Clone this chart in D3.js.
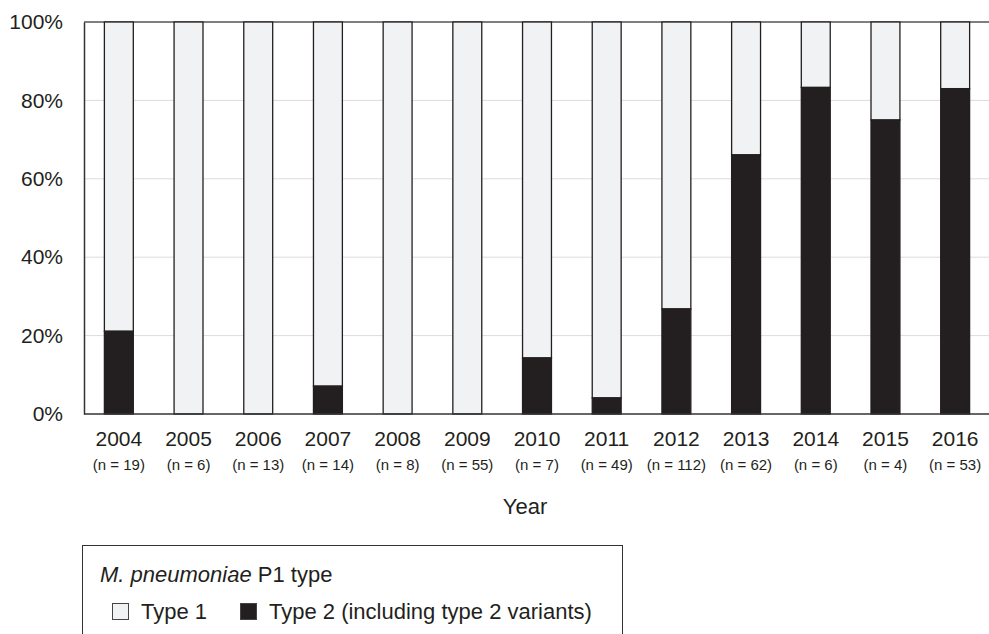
<!DOCTYPE html>
<html>
<head>
    <meta charset="UTF-8">
    <title>M. pneumoniae P1 type by year</title>
    <script src="https://cdn.jsdelivr.net/npm/d3@7"></script>
    <style>
        body { margin: 0; background: #fff; }
        text { font-family: "Liberation Sans", Arial, sans-serif; fill: #231f20; }
    </style>
</head>
<body>
    <script>
        var years = ['2004', '2005', '2006', '2007', '2008', '2009', '2010', '2011', '2012', '2013', '2014', '2015', '2016']
        var counts = [19, 6, 13, 14, 8, 55, 7, 49, 112, 62, 6, 4, 53]
        // percent of type 2 (incl. variants) per year, rest is type 1
        var type2 = [21.1, 0, 0, 7.1, 0, 0, 14.3, 4.1, 26.8, 66.1, 83.3, 75, 83.0]
        var yTicks = [0, 20, 40, 60, 80, 100]

        var W = 989, H = 634
        var mLeft = 84, mRight = 990, mTop = 22, mBottom = 414
        var font = '"Liberation Sans", Arial, sans-serif'

        var svg = d3.select('body')
            .append('svg')
            .attr('width', W)
            .attr('height', H)

        var x = d3.scaleBand()
            .domain(years)
            .range([mLeft, mRight])
            .paddingInner(0.585)
            .paddingOuter(0.2925)

        var y = d3.scaleLinear()
            .domain([0, 100])
            .range([mBottom, mTop])

        // grid
        svg.append('g')
            .selectAll('line')
            .data(yTicks.filter(function(d){ return d > 0 && d < 100 }))
            .enter()
            .append('line')
            .attr('x1', mLeft)
            .attr('x2', W)
            .attr('y1', function(d){ return y(d) })
            .attr('y2', function(d){ return y(d) })
            .attr('stroke', '#dcdcdc')
            .attr('stroke-width', 1)

        // top line
        svg.append('line')
            .attr('x1', mLeft).attr('x2', W)
            .attr('y1', y(100)).attr('y2', y(100))
            .attr('stroke', '#555').attr('stroke-width', 1.5)

        var data = years.map(function(d, i){
            return { year: d, n: counts[i], t2: type2[i] }
        })

        var bars = svg.append('g')
            .selectAll('g')
            .data(data)
            .enter()
            .append('g')

        bars.append('rect')
            .attr('x', function(d){ return x(d.year) })
            .attr('width', x.bandwidth())
            .attr('y', y(100))
            .attr('height', function(d){ return y(d.t2) - y(100) })
            .attr('fill', '#f1f2f4')
            .attr('stroke', '#231f20')
            .attr('stroke-width', 1.3)

        bars.filter(function(d){ return d.t2 > 0 })
            .append('rect')
            .attr('x', function(d){ return x(d.year) })
            .attr('width', x.bandwidth())
            .attr('y', function(d){ return y(d.t2) })
            .attr('height', function(d){ return y(0) - y(d.t2) })
            .attr('fill', '#231f20')
            .attr('stroke', '#231f20')
            .attr('stroke-width', 1.3)

        // y axis
        var yAxis = svg.append('g')
            .attr('transform', 'translate(' + mLeft + ',0)')
            .call(d3.axisLeft(y).tickValues(yTicks).tickSize(0).tickPadding(21)
                .tickFormat(function(d){ return d + '%' }))
        yAxis.select('.domain').attr('stroke', '#333').attr('stroke-width', 1.5)
        yAxis.selectAll('text').style('font-size', '21px')
            .style('font-family', font)
            .attr('fill', '#231f20')

        // x axis
        var xAxis = svg.append('g')
            .attr('transform', 'translate(0,' + mBottom + ')')
            .call(d3.axisBottom(x).tickSize(0).tickPadding(17))
        xAxis.select('.domain').attr('stroke', '#333').attr('stroke-width', 1.5)
            .attr('d', 'M' + mLeft + ',0H' + mRight)
        xAxis.selectAll('text').style('font-size', '21px')
            .style('font-family', font)
            .attr('fill', '#231f20')

        svg.append('g')
            .selectAll('text')
            .data(data)
            .enter()
            .append('text')
            .attr('x', function(d){ return x(d.year) + x.bandwidth() / 2 })
            .attr('y', 470)
            .attr('text-anchor', 'middle')
            .style('font-size', '15px')
            .text(function(d){ return '(n = ' + d.n + ')' })

        svg.append('text')
            .attr('x', 525)
            .attr('y', 514)
            .attr('text-anchor', 'middle')
            .style('font-size', '22px')
            .text('Year')

        // legend
        var lg = svg.append('g')
        lg.append('rect')
            .attr('x', 82.5).attr('y', 545.5)
            .attr('width', 540).attr('height', 120)
            .attr('fill', 'none')
            .attr('stroke', '#333').attr('stroke-width', 1)

        var title = lg.append('text')
            .attr('x', 100).attr('y', 582)
            .style('font-size', '22px')
        title.append('tspan').style('font-style', 'italic').text('M. pneumoniae')
        title.append('tspan').text(' P1 type')

        var legendItems = [
            { label: 'Type 1', fill: '#f1f2f4', x: 112 },
            { label: 'Type 2 (including type 2 variants)', fill: '#231f20', x: 240 }
        ]
        var li = lg.selectAll('.item')
            .data(legendItems)
            .enter()
            .append('g')
            .attr('class', 'item')
        li.append('rect')
            .attr('x', function(d){ return d.x + 0.5 })
            .attr('y', 603.5)
            .attr('width', 16).attr('height', 16)
            .attr('fill', function(d){ return d.fill })
            .attr('stroke', '#444').attr('stroke-width', 1)
        li.append('text')
            .attr('x', function(d){ return d.x + 29 })
            .attr('y', 619)
            .style('font-size', '22px')
            .text(function(d){ return d.label })
    </script>
</body>
</html>
